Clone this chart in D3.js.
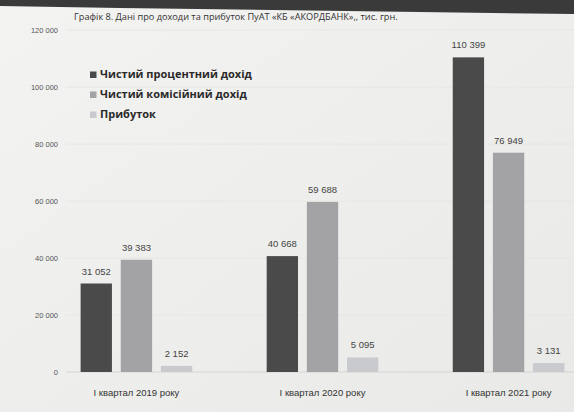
<!DOCTYPE html>
<html><head><meta charset="utf-8">
<script src="https://cdn.jsdelivr.net/npm/d3@7"></script>
<style>body{margin:0;background:#f4f4f2}svg{display:block}</style>
</head><body>
<script>
const categories = ["І квартал 2019 року", "І квартал 2020 року", "І квартал 2021 року"];
const seriesNames = ["Чистий процентний дохід", "Чистий комісійний дохід", "Прибуток"];
const netInterest = [31052, 40668, 110399];
const netCommission = [39383, 59688, 76949];
const profit = [2152, 5095, 3131];
const yTicks = [0, 20000, 40000, 60000, 80000, 100000, 120000];
const title = "Графік 8. Дані про доходи та прибуток ПуАТ «КБ «АКОРДБАНК»,, тис. грн.";

const W = 574, H = 412;
const colors = ["#4a4a4a", "#a3a3a5", "#c9cacd"];
const series = [netInterest, netCommission, profit];
const fmt = v => d3.format(",")(v).replace(/,/g, " ");

const svg = d3.select("body").append("svg").attr("width", W).attr("height", H);
const defs = svg.append("defs");
const g0 = defs.append("linearGradient").attr("id","bg").attr("x1",0).attr("y1",0).attr("x2",1).attr("y2",1);
g0.append("stop").attr("offset","0").attr("stop-color","#f3f3f1");
g0.append("stop").attr("offset","1").attr("stop-color","#e9e9e7");
svg.append("rect").attr("width",W).attr("height",H).attr("fill","url(#bg)");
// dark photo edge at top
svg.append("path").attr("d","M0,0 L574,0 L574,14 L120,8 L0,6 Z").attr("fill","#3a3a3a");

const x0 = d3.scaleBand().domain(categories).range([62, 583]).paddingInner(0.4).paddingOuter(0.1);
const x1 = d3.scaleBand().domain(d3.range(3)).range([0, x0.bandwidth()]).paddingInner(0.22);
const y = d3.scaleLinear().domain([0, 120000]).range([372, 30]);

// gridlines
svg.append("g").selectAll("line").data(yTicks.filter(t=>t>0)).join("line")
  .attr("x1", 66).attr("x2", 574).attr("y1", d=>y(d)).attr("y2", d=>y(d))
  .attr("stroke", "#e4e4e2").attr("stroke-width", 0.8);
svg.append("line").attr("x1",66).attr("x2",574).attr("y1",y(0)).attr("y2",y(0)).attr("stroke","#d4d4d2");

// y axis labels
const yAxis = d3.axisLeft(y).tickValues(yTicks).tickFormat(fmt).tickSize(0).tickPadding(0);
const ya = svg.append("g").attr("transform","translate(58,0)").call(yAxis);
ya.select(".domain").remove();
ya.selectAll("text").attr("font-family","Liberation Sans, Arial, sans-serif").attr("font-size",7.5).attr("fill","#555");

// bars
const groups = svg.append("g").selectAll("g").data(categories).join("g")
  .attr("transform", d => `translate(${x0(d)},0)`);
groups.each(function(c, ci){
  const gg = d3.select(this);
  const data = series.map((s, si) => ({si, v: s[ci]}));
  gg.selectAll("rect").data(data).join("rect")
    .attr("x", d => x1(d.si)).attr("width", x1.bandwidth())
    .attr("y", d => y(d.v)).attr("height", d => y(0) - y(d.v))
    .attr("fill", d => colors[d.si]);
  gg.selectAll("text.val").data(data).join("text").attr("class","val")
    .attr("x", d => x1(d.si) + x1.bandwidth()/2).attr("y", d => y(d.v) - 9)
    .attr("text-anchor","middle").attr("font-family","Liberation Sans, Arial, sans-serif")
    .attr("font-size", 9.5).attr("fill","#444").text(d => fmt(d.v));
});

// x axis labels
const xAxis = d3.axisBottom(x0).tickSize(0).tickPadding(0);
const xa = svg.append("g").attr("transform",`translate(0,${y(0)+17})`).call(xAxis);
xa.select(".domain").remove();
xa.selectAll("text").attr("font-family","Liberation Sans, Arial, sans-serif").attr("font-size",9.5).attr("fill","#333");

// title
svg.append("text").attr("x", 74).attr("y", 20).attr("font-family","Open Sans, Liberation Sans, sans-serif")
  .attr("font-size", 9.2).attr("fill","#333").text(title);

// legend
const leg = svg.append("g").attr("transform","translate(90,78)");
seriesNames.forEach((n, i) => {
  const r = leg.append("g").attr("transform", `translate(0,${i*20})`);
  r.append("rect").attr("x",0).attr("y",-6.5).attr("width",6.5).attr("height",6.5).attr("fill",colors[i]);
  r.append("text").attr("x",10).attr("y",0).attr("font-family","Open Sans, Liberation Sans, sans-serif")
    .attr("font-weight","bold").attr("font-size",11).attr("fill","#2a2a2a").text(n);
});
</script>
</body></html>
